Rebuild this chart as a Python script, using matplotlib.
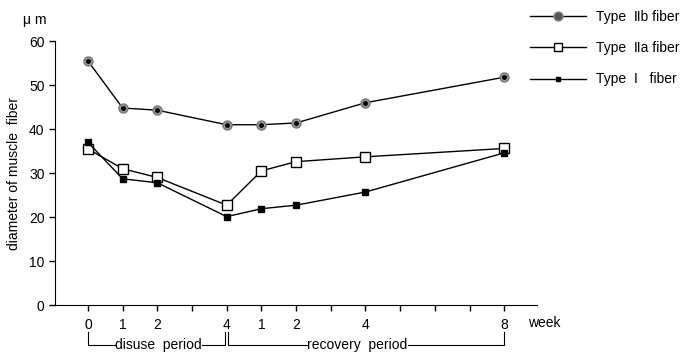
import matplotlib
matplotlib.use("Agg")
import matplotlib.pyplot as plt
from matplotlib.lines import Line2D

plt.rcParams['font.family'] = ['Liberation Sans', 'DejaVu Sans']

# week positions on a continuous axis (disuse 0-4, then recovery 1-8 after week 4)
xpos = [0, 1, 2, 4, 5, 6, 8, 12]
tick_labels = ['0', '1', '2', '4', '1', '2', '4', '8']

type2b = [55.5, 44.8, 44.3, 41.0, 41.0, 41.4, 46.0, 51.8]
type2a = [35.5, 31.0, 29.0, 22.7, 30.5, 32.6, 33.7, 35.6]
type1 = [37.0, 28.7, 27.8, 20.1, 21.9, 22.7, 25.7, 34.6]

fig = plt.figure(figsize=(6.83, 3.58), dpi=100)
ax = fig.add_axes([0.0805, 0.148, 0.706, 0.737])

ax.plot(xpos, type2b, color='black', lw=1, marker='o', ms=6.5,
        mfc='#999999', mec='#777777', zorder=3)
ax.plot(xpos, type2b, ls='none', marker='o', ms=2.5, color='black', zorder=4)
ax.plot(xpos, type2a, color='black', lw=1, marker='s', ms=7,
        mfc='white', mec='black', mew=1, zorder=3)
ax.plot(xpos, type1, color='black', lw=1, marker='s', ms=4,
        mfc='black', mec='black', zorder=3)

ax.set_xlim(-0.95, 12.95)
ax.set_ylim(0, 60)
ax.set_yticks(range(0, 61, 10))
ax.set_xticks(range(0, 13))
ax.set_xticklabels(['' if i not in xpos else tick_labels[xpos.index(i)] for i in range(13)])
ax.spines['top'].set_visible(False)
ax.spines['right'].set_visible(False)
ax.tick_params(labelsize=10, length=4, width=1, direction='out')
ax.tick_params(axis='x', pad=5)
ax.set_ylabel('diameter of muscle  fiber', fontsize=10, labelpad=6)

fig.text(0.033, 0.945, 'μ m', fontsize=10, ha='left', va='center')
ax.text(12.7, -4.0, 'week', fontsize=10, ha='left', va='center', clip_on=False)

# period brackets under the axis
yb_top, yb_bot = -6.1, -9.1
ax.plot([0, 0, 0.78], [yb_top, yb_bot, yb_bot], color='black', lw=0.8, clip_on=False)
ax.text(2.03, yb_bot, 'disuse  period', fontsize=10, ha='center', va='center', clip_on=False)
ax.plot([3.28, 3.95, 3.95], [yb_bot, yb_bot, yb_top], color='black', lw=0.8, clip_on=False)
ax.plot([4.05, 4.05, 6.33], [yb_top, yb_bot, yb_bot], color='black', lw=0.8, clip_on=False)
ax.text(7.77, yb_bot, 'recovery  period', fontsize=10, ha='center', va='center', clip_on=False)
ax.plot([9.22, 12, 12], [yb_bot, yb_bot, yb_top], color='black', lw=0.8, clip_on=False)

handles = [
    Line2D([], [], color='black', lw=1, marker='o', ms=6.5, mfc='#555555', mec='#888888'),
    Line2D([], [], color='black', lw=1, marker='s', ms=6, mfc='white', mec='black'),
    Line2D([], [], color='black', lw=1, marker='s', ms=3.5, mfc='black', mec='black'),
]
labels = ['Type  Ⅱb fiber', 'Type  Ⅱa fiber', 'Type  Ⅰ   fiber']
fig.legend(handles, labels, loc='upper left', bbox_to_anchor=(0.762, 1.0),
           frameon=False, fontsize=10, handlelength=4.0, labelspacing=1.25,
           handletextpad=0.75, borderaxespad=0.3)

fig.savefig('out.png', dpi=100)
